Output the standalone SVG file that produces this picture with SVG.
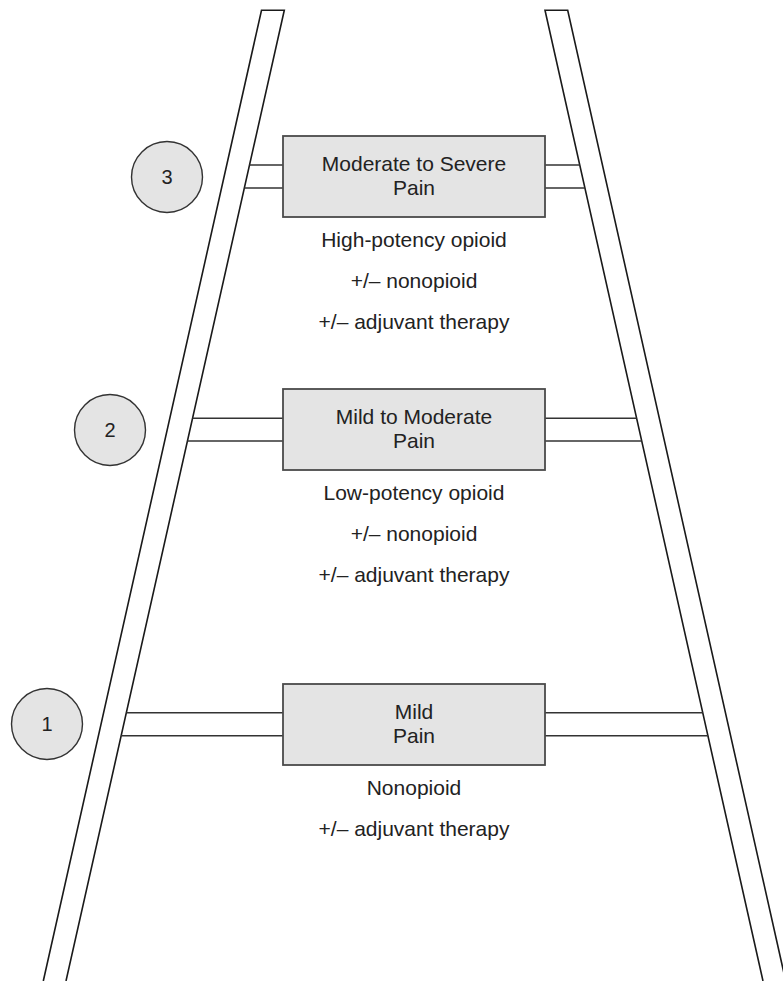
<svg xmlns="http://www.w3.org/2000/svg" width="783" height="981" viewBox="0 0 783 981">
  <style>
    .rail { fill: none; stroke: #1a1a1a; stroke-width: 1.6; stroke-linejoin: miter; }
    .rung { fill: none; stroke: #333; stroke-width: 1.6; }
    .box { fill: #e4e4e4; stroke: #4a4a4a; stroke-width: 1.8; }
    .step { fill: #e4e4e4; stroke: #333; stroke-width: 1.4; }
    .lbl { font-family: "Liberation Sans", Arial, sans-serif; font-size: 21px; fill: #222; text-anchor: middle; }
    .num { font-family: "Liberation Sans", Arial, sans-serif; font-size: 20px; fill: #222; text-anchor: middle; }
  </style>
  <rect width="783" height="981" fill="#fff"/>

  <!-- ladder rails -->
  <g id="rails">
    <path class="rail" d="M43.3,981 L261.5,10.3 L284.3,10.3 L66,981"/>
    <path class="rail" d="M763,981 L545,10.3 L567.7,10.3 L785.7,981"/>
  </g>

  <!-- rungs joining each step box to the rails -->
  <g id="connectors">
    <line class="rung" x1="249.5" y1="165" x2="283" y2="165"/>
    <line class="rung" x1="244.3" y1="188" x2="283" y2="188"/>
    <line class="rung" x1="545" y1="165" x2="579.8" y2="165"/>
    <line class="rung" x1="545" y1="188" x2="585" y2="188"/>

    <line class="rung" x1="192.6" y1="418.3" x2="283" y2="418.3"/>
    <line class="rung" x1="187.5" y1="441" x2="283" y2="441"/>
    <line class="rung" x1="545" y1="418.3" x2="636.7" y2="418.3"/>
    <line class="rung" x1="545" y1="441" x2="641.8" y2="441"/>

    <line class="rung" x1="126.3" y1="712.7" x2="283" y2="712.7"/>
    <line class="rung" x1="121.1" y1="735.7" x2="283" y2="735.7"/>
    <line class="rung" x1="545" y1="712.7" x2="702.9" y2="712.7"/>
    <line class="rung" x1="545" y1="735.7" x2="708.1" y2="735.7"/>
  </g>

  <!-- step 3 -->
  <g id="step3">
    <circle class="step" cx="167" cy="177" r="35.5"/>
    <text class="num" x="167" y="184">3</text>
  </g>
  <g id="box3">
    <rect class="box" x="283" y="136" width="262" height="81"/>
    <text class="lbl" x="414" y="171">Moderate to Severe</text>
    <text class="lbl" x="414" y="195">Pain</text>
  </g>
  <g id="notes3">
    <text class="lbl" x="414" y="247">High-potency opioid</text>
    <text class="lbl" x="414" y="288">+/– nonopioid</text>
    <text class="lbl" x="414" y="329">+/– adjuvant therapy</text>
  </g>

  <!-- step 2 -->
  <g id="step2">
    <circle class="step" cx="110" cy="430" r="35.5"/>
    <text class="num" x="110" y="437">2</text>
  </g>
  <g id="box2">
    <rect class="box" x="283" y="389" width="262" height="81"/>
    <text class="lbl" x="414" y="424">Mild to Moderate</text>
    <text class="lbl" x="414" y="448">Pain</text>
  </g>
  <g id="notes2">
    <text class="lbl" x="414" y="500">Low-potency opioid</text>
    <text class="lbl" x="414" y="541">+/– nonopioid</text>
    <text class="lbl" x="414" y="582">+/– adjuvant therapy</text>
  </g>

  <!-- step 1 -->
  <g id="step1">
    <circle class="step" cx="47" cy="724" r="35.5"/>
    <text class="num" x="47" y="731">1</text>
  </g>
  <g id="box1">
    <rect class="box" x="283" y="684" width="262" height="81"/>
    <text class="lbl" x="414" y="719">Mild</text>
    <text class="lbl" x="414" y="743">Pain</text>
  </g>
  <g id="notes1">
    <text class="lbl" x="414" y="795">Nonopioid</text>
    <text class="lbl" x="414" y="836">+/– adjuvant therapy</text>
  </g>
</svg>
